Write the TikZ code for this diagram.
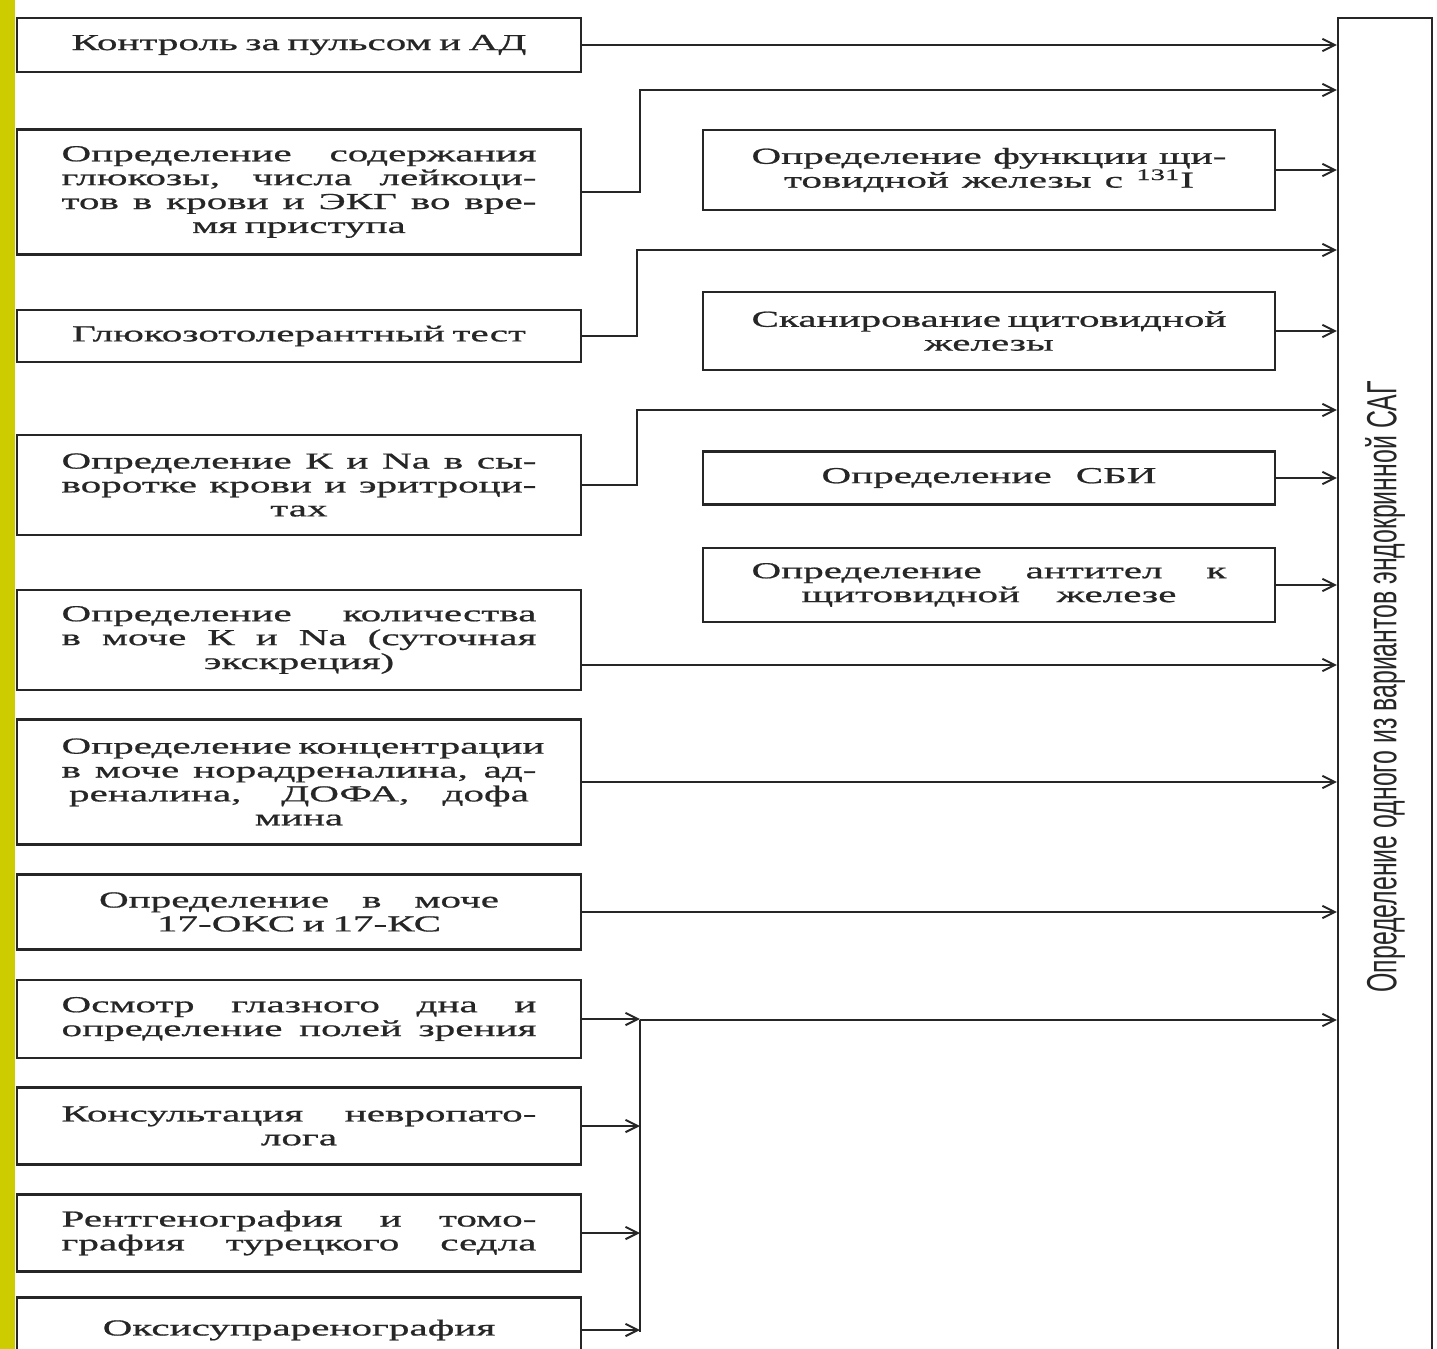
\documentclass[tikz,border=0pt]{standalone}
\usepackage{fontspec}
\setmainfont{Liberation Serif}[FakeStretch=1.8,FakeBold=0.8]
\newfontfamily\satfont{Liberation Sans}[FakeStretch=0.59]
\usetikzlibrary{arrows.meta}
\definecolor{stripyellow}{RGB}{204,204,0}
\newcommand\jl[2][9.5cm]{{\spaceskip=0.3em plus 1fil\makebox[#1][s]{#2}}}

\begin{document}
\begin{tikzpicture}[x=0.02cm,y=-0.02cm,
        font=\fontsize{13pt}{13.6pt}\selectfont,
        lbox/.style={draw=black!85, text=black!85, line width=1.3pt, minimum width=11.28cm, text width=9.5cm, align=center, inner sep=0pt},
        rbox/.style={lbox, minimum width=11.44cm},
        arr/.style={draw=black!85, line width=1.1pt, -{Straight Barb[length=7pt,width=7pt]}},
        ln/.style={draw=black!85, line width=1.1pt}]
        \useasboundingbox (0,0) rectangle (1437,1349);
        \fill[white] (0,0) rectangle (1437,1349);
        \fill[stripyellow] (0,0) rectangle (15,1349);

        % left column
        \node[lbox, minimum height=1.08cm] (puls) at (299,45) {Контроль за пульсом и АД};
        \node[lbox, minimum height=2.5cm] (glukoza) at (299,192) {\jl{Определение содержания}\\ \jl{глюкозы, числа лейкоци-}\\ \jl{тов в крови и ЭКГ во вре-}\\ мя приступа};
        \node[lbox, minimum height=1.04cm] (gtt) at (299,336) {Глюкозотолерантный тест};
        \node[lbox, minimum height=2cm] (kna) at (299,485) {\jl{Определение К и Na в сы-}\\ \jl{воротке крови и эритроци-}\\ тах};
        \node[lbox, minimum height=2cm] (kolvo) at (299,640) {\jl{Определение количества}\\ \jl{в моче К и Na (суточная}\\ экскреция)};
        \node[lbox, minimum height=2.5cm] (kateh) at (299,782) {\jl{Определение концентрации}\\ \jl{в моче норадреналина, ад-}\\ \jl[9.2cm]{реналина, ДОФА, дофа}\\ мина};
        \node[lbox, minimum height=1.5cm] (oks) at (299,912) {\jl[8cm]{Определение в моче}\\ 17-ОКС и 17-КС};
        \node[lbox, minimum height=1.56cm] (glazdno) at (299,1019) {\jl{Осмотр глазного дна и}\\ \jl{определение полей зрения}};
        \node[lbox, minimum height=1.54cm] (nevro) at (299,1126) {\jl{Консультация невропато-}\\ лога};
        \node[lbox, minimum height=1.54cm] (rentgen) at (299,1233) {\jl{Рентгенография и томо-}\\ \jl{графия турецкого седла}};
        \node[lbox, minimum height=1.3cm] (oksisup) at (299,1330) {Оксисупраренография};

        % middle column
        \node[rbox, minimum height=1.6cm] (funkc) at (989,170) {\jl{Определение функции щи-}\\ \jl[8.2cm]{товидной железы с \textsuperscript{131}I}};
        \node[rbox, minimum height=1.56cm] (skan) at (989,331) {\jl{Сканирование щитовидной}\\ железы};
        \node[rbox, minimum height=1.06cm] (sbi) at (989,478) {\jl[6.7cm]{Определение СБИ}};
        \node[rbox, minimum height=1.48cm] (antitela) at (989,585) {\jl{Определение антител к}\\ \jl[7.5cm]{щитовидной железе}};

        % right column
        \node[draw=black!85, text=black!85, line width=1.3pt, minimum width=1.88cm, minimum height=26.76cm] (sat) at (1385,687)
            {\rotatebox{90}{\satfont\fontsize{24pt}{24pt}\selectfont Определение одного из вариантов эндокринной САГ}};

        \coordinate (j1) at (640,90);
        \coordinate (j2) at (637,250);
        \coordinate (j3) at (637,410);
        \coordinate (k5) at ([yshift=-0.5cm]kolvo.east);
        \coordinate (bus) at (640,1020);
        \coordinate (busend) at (640,1332);

        \draw[arr] (puls.east) -- (puls.east -| sat.west);
        \draw[arr] (glukoza.east) -| (j1) -- (j1 -| sat.west);
        \draw[arr] (gtt.east) -| (j2) -- (j2 -| sat.west);
        \draw[arr] (kna.east) -| (j3) -- (j3 -| sat.west);
        \draw[arr] (k5) -- (k5 -| sat.west);
        \draw[arr] (kateh.east) -- (kateh.east -| sat.west);
        \draw[arr] (oks.east) -- (oks.east -| sat.west);

        \draw[arr] (funkc.east) -- (funkc.east -| sat.west);
        \draw[arr] (skan.east) -- (skan.east -| sat.west);
        \draw[arr] (sbi.east) -- (sbi.east -| sat.west);
        \draw[arr] (antitela.east) -- (antitela.east -| sat.west);

        \draw[arr] (glazdno.east) -- (glazdno.east -| bus);
        \draw[arr] (nevro.east) -- (nevro.east -| bus);
        \draw[arr] (rentgen.east) -- (rentgen.east -| bus);
        \draw[arr] (oksisup.east) -- (oksisup.east -| bus);
        \draw[ln] (bus) -- (busend);
        \draw[arr] (bus) -- (bus -| sat.west);
\end{tikzpicture}
\end{document}
